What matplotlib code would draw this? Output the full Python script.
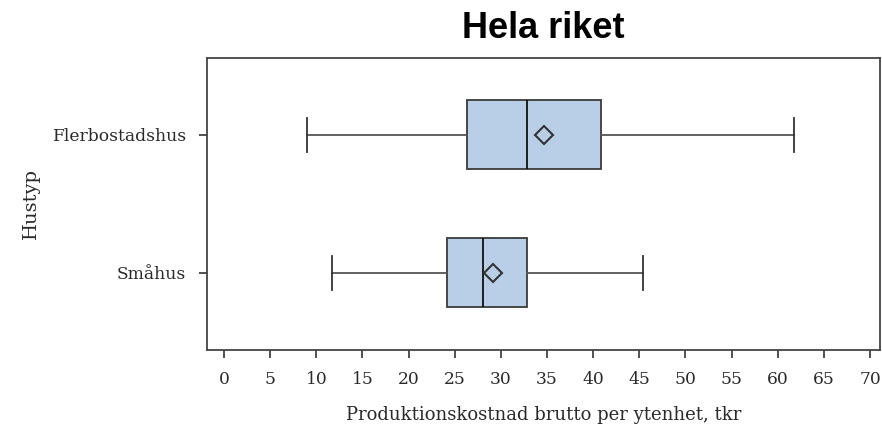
import matplotlib.pyplot as plt

# Summary statistics per house type (tkr per unit area)
hustyper = ['Flerbostadshus', 'Småhus']
whisker_low = [8.95, 11.75]
q1 = [26.3, 24.15]
median = [32.8, 28.1]
q3 = [40.85, 32.8]
whisker_high = [61.8, 45.4]
mean = [34.7, 29.1]

x_ticks = list(range(0, 75, 5))

stats = []
for i, name in enumerate(hustyper):
    stats.append({
        'label': name,
        'whislo': whisker_low[i],
        'q1': q1[i],
        'med': median[i],
        'q3': q3[i],
        'whishi': whisker_high[i],
        'mean': mean[i],
        'fliers': [],
    })

fig = plt.figure(figsize=(8.82, 4.30), dpi=100)
ax = fig.add_axes([0.2347, 0.186, 0.7630, 0.680])

edge = '#3a3a3a'
ax.bxp(
    stats,
    positions=range(len(hustyper)),
    orientation='horizontal',
    widths=0.5,
    patch_artist=True,
    showmeans=True,
    boxprops=dict(facecolor='#b9cfe8', edgecolor=edge, linewidth=1.3),
    medianprops=dict(color='#111111', linewidth=1.3),
    whiskerprops=dict(color='#555555', linewidth=1.3),
    capprops=dict(color='#333333', linewidth=1.3),
    capwidths=0.25,
    meanprops=dict(marker='D', markersize=9, markerfacecolor='none',
                   markeredgecolor='#333333', markeredgewidth=1.5),
)

ax.set_ylim(1.56, -0.56)
ax.set_xlim(-1.84, 71.08)
ax.set_xticks(x_ticks)
ax.set_xticklabels([str(t) for t in x_ticks])

serif = 'DejaVu Serif'
for lab in ax.get_xticklabels() + ax.get_yticklabels():
    lab.set_family(serif)
    lab.set_fontsize(12.3)
    lab.set_color('#2a2a2a')
ax.tick_params(axis='both', direction='out', length=6, width=1.2,
               color='#333333', pad=9)

ax.set_xlabel('Produktionskostnad brutto per ytenhet, tkr', family=serif,
              fontsize=13, color='#2a2a2a', labelpad=13)
ax.set_ylabel('Hustyp', family=serif, fontsize=14, color='#2a2a2a',
              labelpad=9)
ax.set_title('Hela riket', family='Liberation Sans', fontweight='bold',
             fontsize=26, pad=14)

for s in ax.spines.values():
    s.set_color('#444444')
    s.set_linewidth(1.3)

fig.savefig('out.png', dpi=100)
